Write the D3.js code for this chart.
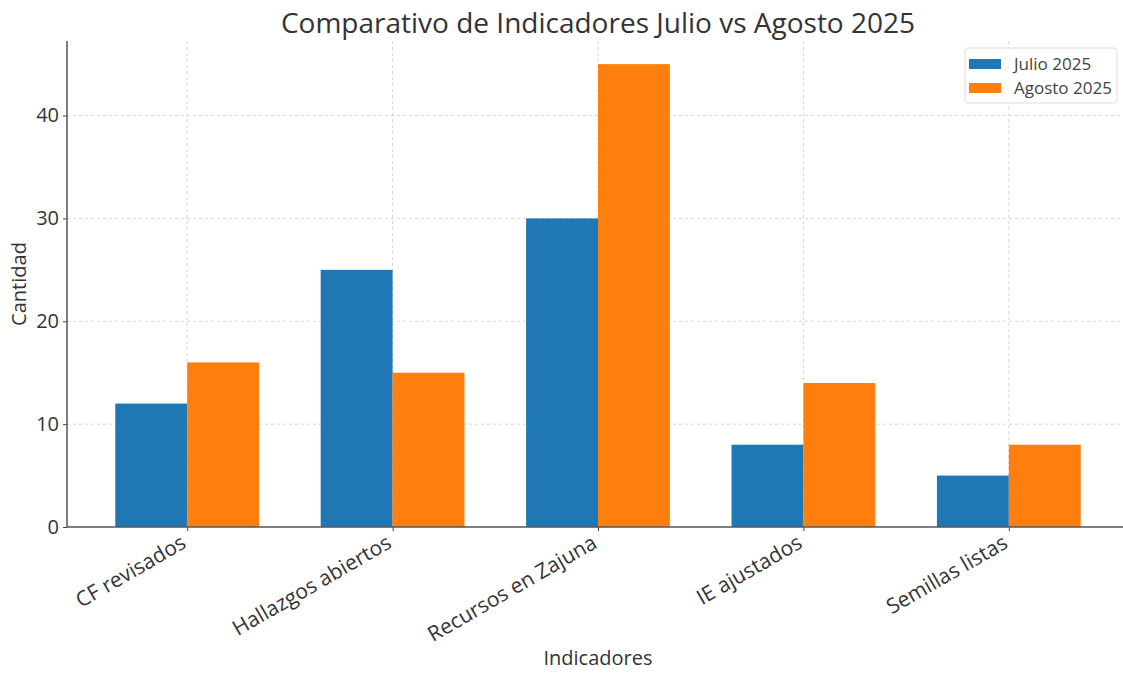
<!DOCTYPE html>
<html>
<head>
<meta charset="utf-8">
<script src="https://cdn.jsdelivr.net/npm/d3@7"></script>
<style>
  body { margin: 0; background: #fff; }
  text { font-family: "Open Sans", sans-serif; fill: #333; }
  .grid line { stroke: #ccc; stroke-dasharray: 3,3; stroke-width: 0.8; }
</style>
</head>
<body>
<div id="chart"></div>
<script>
// data
var categories = ["CF revisados", "Hallazgos abiertos", "Recursos en Zajuna", "IE ajustados", "Semillas listas"];
var julio = [12, 25, 30, 8, 5];
var agosto = [16, 15, 45, 14, 8];
var seriesNames = ["Julio 2025", "Agosto 2025"];
var colors = ["#1f77b4", "#ff7f0e"];
var yTicks = [0, 10, 20, 30, 40];

var width = 1123, height = 675;
var plot = { left: 67, right: 1129, top: 41, bottom: 527 };
var barW = 0.35;

var svg = d3.select("#chart").append("svg")
  .attr("width", width)
  .attr("height", height);

// scales, matplotlib-like margins
var x = d3.scaleLinear()
  .domain([-barW - 0.235, categories.length - 1 + barW + 0.235])
  .range([plot.left, plot.right]);
var y = d3.scaleLinear()
  .domain([0, d3.max(agosto.concat(julio)) * 1.05])
  .range([plot.bottom, plot.top]);

// grid
var grid = svg.append("g").attr("class", "grid");
grid.selectAll(".gy").data(yTicks.slice(1)).enter().append("line")
  .attr("x1", plot.left).attr("x2", plot.right)
  .attr("y1", function (d) { return y(d); })
  .attr("y2", function (d) { return y(d); });
grid.selectAll(".gx").data(categories).enter().append("line")
  .attr("x1", function (d, i) { return x(i); })
  .attr("x2", function (d, i) { return x(i); })
  .attr("y1", plot.top).attr("y2", plot.bottom);

// bars
var series = [julio, agosto];
series.forEach(function (vals, s) {
  svg.selectAll(".bar" + s).data(vals).enter().append("rect")
    .attr("x", function (d, i) { return x(i + (s === 0 ? -barW : 0)); })
    .attr("y", function (d) { return y(d); })
    .attr("width", x(barW) - x(0))
    .attr("height", function (d) { return plot.bottom - y(d); })
    .style("fill", colors[s]);
});

// axes
var yAxis = svg.append("g")
  .attr("transform", "translate(" + plot.left + ",0)")
  .call(d3.axisLeft(y).tickValues(yTicks).tickSize(4).tickPadding(4));
yAxis.select(".domain").remove();
yAxis.selectAll("line").attr("stroke", "#444");
yAxis.selectAll("text").style("font-size", "20px").style("fill", "#333")
  .style("font-family", "'Open Sans', sans-serif");

var xAxis = svg.append("g")
  .attr("transform", "translate(0," + plot.bottom + ")")
  .call(d3.axisBottom(x).tickValues(d3.range(categories.length))
    .tickFormat(function (d) { return categories[d]; }).tickSize(4));
xAxis.select(".domain").remove();
xAxis.selectAll("line").attr("stroke", "#444");
xAxis.selectAll("text")
  .style("font-size", "21px").style("fill", "#333")
  .style("font-family", "'Open Sans', sans-serif")
  .attr("text-anchor", "end")
  .attr("dy", "0.7em")
  .attr("transform", "translate(-11,1) rotate(-30)");

// spines
svg.append("line").attr("x1", plot.left).attr("x2", plot.left)
  .attr("y1", plot.top).attr("y2", plot.bottom)
  .attr("stroke", "#555").attr("stroke-width", 1.5);
svg.append("line").attr("x1", plot.left).attr("x2", width)
  .attr("y1", plot.bottom).attr("y2", plot.bottom)
  .attr("stroke", "#555").attr("stroke-width", 1.5);

// titles
svg.append("text").attr("x", 598).attr("y", 33)
  .attr("text-anchor", "middle").style("font-size", "28px")
  .text("Comparativo de Indicadores Julio vs Agosto 2025");
svg.append("text").attr("x", 598).attr("y", 665)
  .attr("text-anchor", "middle").style("font-size", "20px")
  .text("Indicadores");
svg.append("text")
  .attr("transform", "translate(26," + ((plot.top + plot.bottom) / 2) + ") rotate(-90)")
  .attr("text-anchor", "middle").style("font-size", "20px")
  .text("Cantidad");

// legend
var lg = svg.append("g").attr("transform", "translate(965,48)");
lg.append("rect").attr("width", 152).attr("height", 55).attr("rx", 3)
  .attr("fill", "#fff").attr("fill-opacity", 0.85).attr("stroke", "#ddd");
seriesNames.forEach(function (name, i) {
  lg.append("rect").attr("x", 4).attr("y", 11 + i * 24).attr("width", 32).attr("height", 10)
    .attr("fill", colors[i]);
  lg.append("text").attr("x", 49).attr("y", 22 + i * 24)
    .style("font-size", "17px").style("fill", "#444").text(name);
});
</script>
</body>
</html>
